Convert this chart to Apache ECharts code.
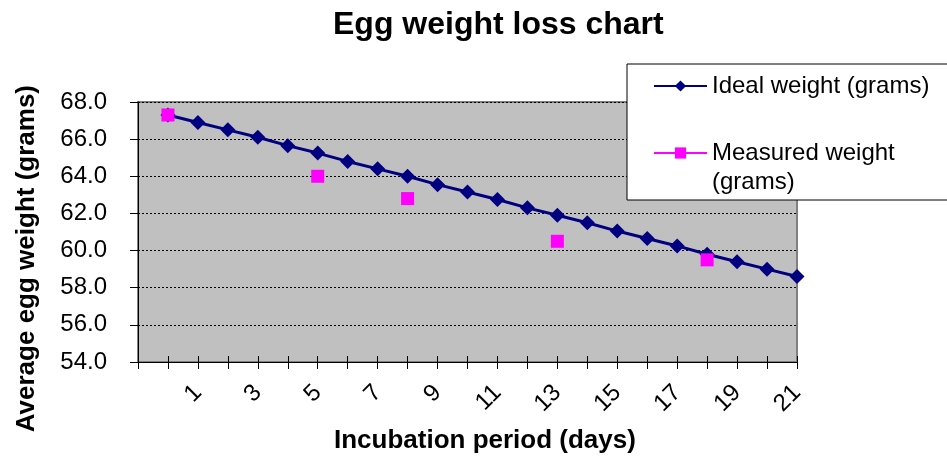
<!DOCTYPE html>
<html>
<head>
<meta charset="utf-8">
<script src="https://cdn.jsdelivr.net/npm/echarts@6/dist/echarts.min.js"></script>
<style>html,body{margin:0;padding:0;background:#fff}#c{width:947px;height:463px}</style>
</head>
<body>
<div id="c"></div>
<script>
var days = [0,1,2,3,4,5,6,7,8,9,10,11,12,13,14,15,16,17,18,19,20,21];
var idealWeight = [67.3,66.9,66.5,66.1,65.65,65.25,64.8,64.4,64.0,63.55,63.15,62.75,62.3,61.9,61.5,61.05,60.65,60.25,59.8,59.4,59.0,58.6];
var measuredDays = [0,5,8,13,18];
var measuredWeight = [67.3,64.0,62.8,60.5,59.5];
var yTicks = {min:54, max:68, interval:2};

var FONT = 'Arial, "Liberation Sans", sans-serif';
var IDEAL = 'Ideal weight (grams)';
var MEASURED = 'Measured weight (grams)';
// leading blank category so the first day sits one step in from the axis
var categories = [''].concat(days.map(String));
var idealData = [null].concat(idealWeight);
var measuredData = categories.map(function(){return null;});
measuredDays.forEach(function(d,i){ measuredData[days.indexOf(d)+1] = measuredWeight[i]; });

var chart = echarts.init(document.getElementById('c'));
chart.setOption({
  animation:false,
  backgroundColor:'#fff',
  title:{text:'Egg weight loss chart', left:328, top:4,
    textStyle:{fontFamily:FONT,fontSize:32,fontWeight:'bold',color:'#000'}},
  grid:{left:138,right:150,top:102,bottom:101,show:true,backgroundColor:'#C0C0C0',borderColor:'#808080',borderWidth:2},
  legend:{orient:'vertical',left:648,top:67,itemWidth:53,itemHeight:14,itemGap:39,z:10,
    textStyle:{fontFamily:FONT,fontSize:24,color:'#000',lineHeight:28},
    formatter:function(n){ return n === MEASURED ? 'Measured weight' : n; },
    data:[IDEAL, MEASURED]},
  graphic:[
    {type:'rect',z:5,shape:{x:627,y:64,width:330,height:136},style:{fill:'#fff',stroke:'#000',lineWidth:1}},
    {type:'text',z:11,left:712,top:170,style:{text:'(grams)',font:'24px '+FONT,fill:'#000'}},
    {type:'text',left:14,top:85,rotation:Math.PI/2,style:{text:'Average egg weight (grams)',font:'bold 26px '+FONT,fill:'#000'}},
    {type:'text',left:334,top:428,style:{text:'Incubation period (days)',font:'bold 26px '+FONT,fill:'#000'}}
  ],
  xAxis:[{type:'category',data:categories,boundaryGap:false,
    axisLine:{lineStyle:{color:'#000',width:1}},
    axisTick:{show:true,interval:0,length:7,lineStyle:{color:'#000'}},
    axisLabel:{interval:1,rotate:45,margin:27,fontFamily:FONT,fontSize:24,color:'#000'},
    splitLine:{show:false}},
   {type:'category',data:categories,boundaryGap:false,position:'bottom',
    axisLine:{show:false},
    axisTick:{show:true,inside:true,interval:0,length:6,lineStyle:{color:'#000'}},
    axisLabel:{show:false},splitLine:{show:false}}],
  yAxis:{type:'value',min:yTicks.min,max:yTicks.max,interval:yTicks.interval,
    axisLine:{show:true,lineStyle:{color:'#000',width:1}},
    axisTick:{show:true,length:8,lineStyle:{color:'#000'}},
    axisLabel:{margin:31,fontFamily:FONT,fontSize:24,color:'#000',formatter:function(v){return v.toFixed(1);}},
    splitLine:{show:true,lineStyle:{color:'#000',type:[2,2],width:1}}},
  series:[
    {name:IDEAL,type:'line',data:idealData,symbol:'diamond',symbolSize:15,
      lineStyle:{color:'#000080',width:3},itemStyle:{color:'#000080'},z:3},
    {name:MEASURED,type:'line',data:measuredData,symbol:'rect',symbolSize:13,connectNulls:false,
      lineStyle:{color:'#FF00FF',width:2},itemStyle:{color:'#FF00FF'},z:4}
  ]
});
</script>
</body>
</html>
